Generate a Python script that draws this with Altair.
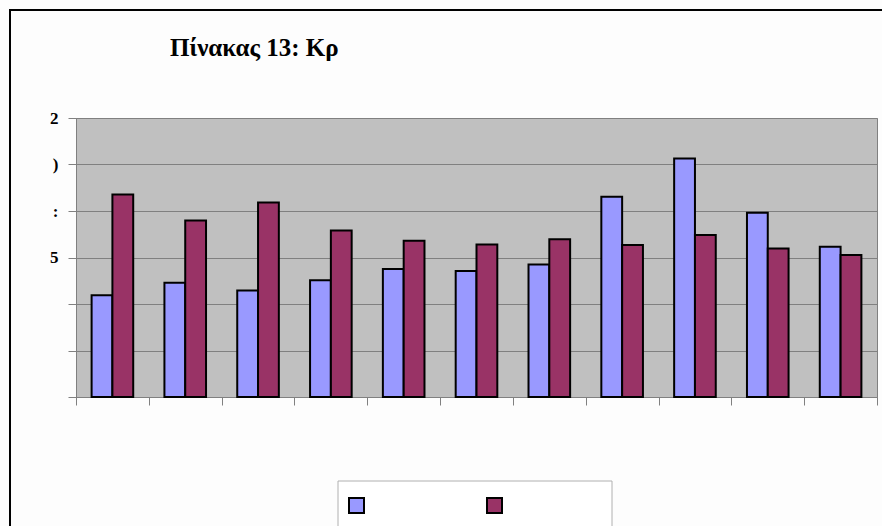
import altair as alt
import pandas as pd

# Eleven categories, two series per category
categories = ["1", "2", "3", "4", "5", "6", "7", "8", "9", "10", "11"]
series_names = ["Σειρά1", "Σειρά2"]
series_a = [4.38, 4.91, 4.58, 5.02, 5.51, 5.42, 5.70, 8.61, 10.26, 7.92, 6.46]
series_b = [8.71, 7.59, 8.37, 7.16, 6.72, 6.56, 6.79, 6.54, 6.97, 6.39, 6.11]
y_ticks = [0, 2, 4, 6, 8, 10, 12]
colors = ["#9999FF", "#993366"]

rows = []
for i, c in enumerate(categories):
    rows.append({"cat": c, "series": series_names[0], "value": series_a[i]})
    rows.append({"cat": c, "series": series_names[1], "value": series_b[i]})
df = pd.DataFrame(rows)

W, H = 801, 279

bars = alt.Chart(df).mark_bar(stroke="black", strokeWidth=2).encode(
    x=alt.X("cat:N", sort=categories,
            scale=alt.Scale(paddingInner=0, paddingOuter=0),
            axis=alt.Axis(title=None, labels=False, tickBand="extent",
                          tickSize=8, tickColor="#808080", domainColor="#808080",
                          grid=False)),
    xOffset=alt.XOffset("series:N", sort=series_names,
                        scale=alt.Scale(paddingInner=0, paddingOuter=0.75)),
    y=alt.Y("value:Q", scale=alt.Scale(domain=[0, 12], nice=False),
            axis=alt.Axis(title=None, values=y_ticks, tickSize=8,
                          tickColor="#808080", domainColor="#808080",
                          gridColor="#808080", gridWidth=1,
                          labelFont="Liberation Serif", labelFontWeight="bold",
                          labelFontSize=17, labelColor="black", labelPadding=10,
                          labelExpr="datum.value == 12 ? '2' : datum.value == 10 ? ')' : datum.value == 8 ? ':' : datum.value == 6 ? '5' : ''")),
    color=alt.Color("series:N", sort=series_names,
                    scale=alt.Scale(domain=series_names, range=colors),
                    legend=alt.Legend(orient="none", legendX=272, legendY=379,
                                      direction="horizontal", title=None,
                                      symbolType="square", symbolSize=225,
                                      symbolStrokeColor="black", symbolStrokeWidth=2,
                                      symbolOpacity=1, labelExpr="''",
                                      labelOffset=0, columnPadding=115, padding=0)),
)

one = pd.DataFrame({"k": [0]})

# Outer chart frame
frame = alt.Chart(one).mark_rect(fill=None, stroke="black", strokeWidth=2).encode(
    x=alt.value(-66), x2=alt.value(900), y=alt.value(-108), y2=alt.value(600)
)

# Legend box
legend_box = alt.Chart(one).mark_rect(fill="white", stroke="#B0B0B0", strokeWidth=1).encode(
    x=alt.value(262), x2=alt.value(536), y=alt.value(363), y2=alt.value(430)
)

title = alt.Chart(one).mark_text(
    text="Πίνακας 13: Κρ", font="Liberation Serif", fontWeight="bold",
    fontSize=25, align="left", baseline="alphabetic", color="black"
).encode(x=alt.value(94), y=alt.value(-62))

chart = alt.layer(frame, legend_box, bars, title).properties(
    width=W, height=H,
    autosize=alt.AutoSizeParams(type="none"),
    padding={"left": 76, "top": 118, "right": 5, "bottom": 129},
    background="#FDFDFD",
).configure_view(fill="#C0C0C0", stroke="#808080", strokeWidth=1)

chart.save("out.html", embed_options={"renderer": "svg", "actions": False})
